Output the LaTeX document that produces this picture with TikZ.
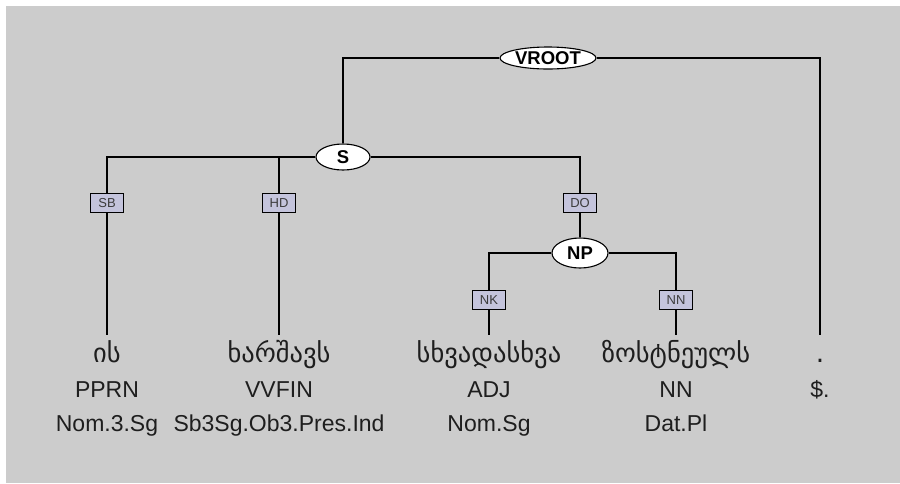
\documentclass[tikz,border=0pt]{standalone}
\usepackage{fontspec}
\setmainfont{Liberation Sans}
\newfontfamily\geofont[Script=Georgian]{DejaVu Sans}
\usetikzlibrary{shapes.geometric}
\definecolor{bg}{RGB}{204,204,204}
\definecolor{boxfill}{RGB}{196,196,220}
\definecolor{txt}{RGB}{30,30,30}
\tikzset{
  cat/.style={ellipse,draw=black,line width=1.1pt,fill=white,inner sep=0pt,font=\bfseries\fontsize{18.5}{18.5}\selectfont,text=black},
  edgebox/.style={rectangle,draw=black,line width=1.5pt,fill=boxfill,inner sep=0pt,minimum width=33,minimum height=19,font=\fontsize{13}{13}\selectfont,text={rgb,255:red,60;green,60;blue,60}},
  word/.style={anchor=base,inner sep=0pt,font=\geofont\fontsize{26.5}{26.5}\selectfont,text=txt},
  tag/.style={anchor=base,inner sep=0pt,font=\fontsize{23}{23}\selectfont,text=txt},
  link/.style={draw=black,line width=1.2pt}
}
\begin{document}
\begin{tikzpicture}[x=1pt,y=-1pt]
\useasboundingbox (0,0) rectangle (900,483);
\fill[bg] (6,6) rectangle (900,483);
% category nodes
\node[cat,minimum width=96,minimum height=22] (vroot) at (548,58) {VROOT};
\node[cat,minimum width=54,minimum height=26] (s) at (343,157) {S};
\node[cat,minimum width=56,minimum height=30] (np) at (580,253) {NP};
% edge labels
\node[edgebox] (sb) at (107,203) {SB};
\node[edgebox] (hd) at (279,203) {HD};
\node[edgebox] (do) at (580,203) {DO};
\node[edgebox] (nk) at (489,300) {NK};
\node[edgebox] (nn) at (676,300) {NN};
% word tops
\coordinate (t1) at (107,335);
\coordinate (t2) at (279,335);
\coordinate (t3) at (489,335);
\coordinate (t4) at (676,335);
\coordinate (t5) at (820,335);
% words
\node[word] (w1) at (107,362) {ის};
\node[word] (w2) at (279,362) {ხარშავს};
\node[word] (w3) at (489,362) {სხვადასხვა};
\node[word] (w4) at (676,362) {ზოსტნეულს};
\node[word] (w5) at (820,362) {.};
% POS tags
\node[tag] (p1) at (107,397) {PPRN};
\node[tag] (p2) at (279,397) {VVFIN};
\node[tag] (p3) at (489,397) {ADJ};
\node[tag] (p4) at (676,397) {NN};
\node[tag] (p5) at (820,397) {\$.};
% morphology
\node[tag] (m1) at (107,431) {Nom.3.Sg};
\node[tag] (m2) at (279,431) {Sb3Sg.Ob3.Pres.Ind};
\node[tag] (m3) at (489,431) {Nom.Sg};
\node[tag] (m4) at (676,431) {Dat.Pl};
% connectors
\draw[link] (vroot.west) -| (s.north);
\draw[link] (vroot.east) -| (t5);
\draw[link] (s.west) -| (sb.north);
\draw[link] (s.west) -| (hd.north);
\draw[link] (s.east) -| (do.north);
\draw[link] (sb.south) -- (t1);
\draw[link] (hd.south) -- (t2);
\draw[link] (do.south) -- (np.north);
\draw[link] (np.west) -| (nk.north);
\draw[link] (np.east) -| (nn.north);
\draw[link] (nk.south) -- (t3);
\draw[link] (nn.south) -- (t4);
\end{tikzpicture}
\end{document}
